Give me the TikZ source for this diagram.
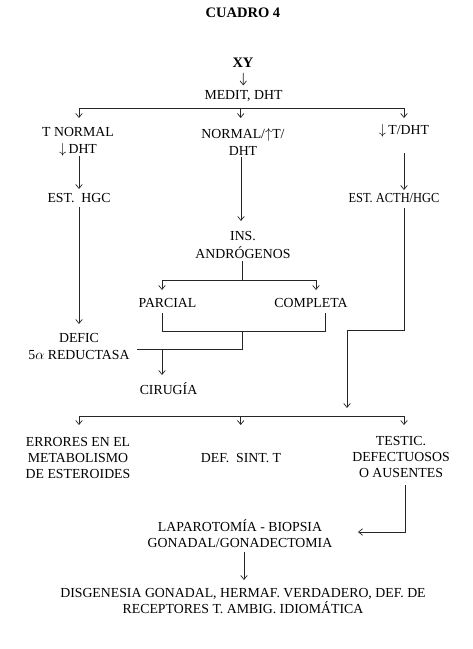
\documentclass[tikz,border=0pt]{standalone}
\usepackage{fontspec}
\setmainfont{Liberation Serif}
\usetikzlibrary{arrows.meta}
\begin{document}
\begin{tikzpicture}[x=1pt,y=-1pt,
  every node/.style={inner sep=0pt, outer sep=0pt, align=center, font=\fontsize{13.8}{16}\selectfont},
  wide/.style={font=\fontsize{13.8}{17}\selectfont},
  ttl/.style={font=\fontsize{14.5}{16}\selectfont\bfseries},
  ln/.style={line width=0.7pt, draw=black!85},
  arr/.style={ln, -{Straight Barb[length=4pt,width=6.5pt]}}]
\useasboundingbox[fill=white] (0,0) rectangle (473,649);

% nodes
\node[ttl] (title) at (243,13) {CUADRO 4};
\node[ttl] (xy) at (243,63) {XY};
\node (medit) at (243.5,96) {MEDIT, DHT};
\node[wide] (tn) at (78,142) {T NORMAL\\$\downarrow$\,DHT};
\node[wide] (nm) at (243,142) {NORMAL/$\uparrow$T/\\DHT};
\node (dt) at (404,131) {$\downarrow$\,T/DHT};
\node (ehgc) at (79,198.5) {EST.\ \ HGC};
\node[font=\fontsize{13.8}{16}\selectfont\addfontfeature{FakeStretch=0.9}] (acth) at (394,198.5) {EST. ACTH/HGC};
\node[font=\fontsize{13.8}{17.5}\selectfont] (ins) at (243,245) {INS.\\ANDRÓGENOS};
\node (parc) at (167.5,303) {PARCIAL};
\node (comp) at (311,303) {COMPLETA};
\node[wide] (defic) at (79,346) {DEFIC\\5$\alpha$ REDUCTASA};
\node (cir) at (168.5,389) {CIRUGÍA};
\node (err) at (78,458) {ERRORES EN EL\\METABOLISMO\\DE ESTEROIDES};
\node (dst) at (241,458) {DEF.\ \ SINT. T};
\node (tes) at (401,457) {TESTIC.\\DEFECTUOSOS\\O AUSENTES};
\node (lap) at (240,534) {LAPAROTOMÍA - BIOPSIA\\GONADAL/GONADECTOMIA};
\node (dis) at (243,601) {DISGENESIA GONADAL, HERMAF. VERDADERO, DEF. DE\\RECEPTORES T. AMBIG. IDIOMÁTICA};

% junction coordinates
\coordinate (bL) at (79,108);
\coordinate (bM) at (240.7,108);
\coordinate (bR) at (404,108);
\coordinate (tipL) at (79,118);
\coordinate (tipM) at (240.7,118);
\coordinate (tipR) at (404,118);
\coordinate (L1s) at (79,156);
\coordinate (L1e) at (79,189);
\coordinate (M1s) at (241,157);
\coordinate (M1e) at (241,221);
\coordinate (R1s) at (404,153);
\coordinate (R1e) at (404,190);
\coordinate (L2s) at (79,207);
\coordinate (L2e) at (79,324);
\coordinate (M2s) at (242,261);
\coordinate (M2j) at (242,280);
\coordinate (sL) at (162,280);
\coordinate (sR) at (316,280);
\coordinate (sLe) at (162,290);
\coordinate (sRe) at (316,290);
\coordinate (P1) at (162,313);
\coordinate (P2) at (162,331);
\coordinate (C1) at (325,313);
\coordinate (C2) at (325,331);
\coordinate (J1) at (242,331);
\coordinate (J2) at (242,349);
\coordinate (D1) at (137,349);
\coordinate (Cs) at (162,349);
\coordinate (Ce) at (162,375);
\coordinate (R2s) at (404,208);
\coordinate (R2a) at (404,330);
\coordinate (R2b) at (347,330);
\coordinate (R2e) at (347,408);
\coordinate (qL) at (79,416);
\coordinate (qM) at (240.7,416);
\coordinate (qR) at (404,416);
\coordinate (qLe) at (79,425);
\coordinate (qMe) at (240.7,425);
\coordinate (qRe) at (404,425);
\coordinate (T1) at (405,485);
\coordinate (T2) at (405,532);
\coordinate (T3) at (358,532);
\coordinate (Ls) at (244,552);
\coordinate (Le) at (244,580);

% connectors
\draw[arr, shorten <=5pt, shorten >=5pt] (xy) -- (medit);
\draw[ln] (bL) -- (bR);
\draw[arr] (bL) -- (tipL);
\draw[arr] (bM) -- (tipM);
\draw[arr] (bR) -- (tipR);
\draw[arr] (L1s) -- (L1e);
\draw[arr] (M1s) -- (M1e);
\draw[arr] (R1s) -- (R1e);
\draw[arr] (L2s) -- (L2e);
\draw[ln] (M2s) -- (M2j);
\draw[ln] (sL) -- (sR);
\draw[arr] (sL) -- (sLe);
\draw[arr] (sR) -- (sRe);
\draw[ln] (P1) -- (P2) -- (C2) -- (C1);
\draw[ln] (J1) -- (J2) -- (D1);
\draw[arr] (Cs) -- (Ce);
\draw[arr] (R2s) -- (R2a) -- (R2b) -- (R2e);
\draw[ln] (qL) -- (qR);
\draw[arr] (qL) -- (qLe);
\draw[arr] (qM) -- (qMe);
\draw[arr] (qR) -- (qRe);
\draw[arr] (T1) -- (T2) -- (T3);
\draw[arr] (Ls) -- (Le);
\end{tikzpicture}
\end{document}
